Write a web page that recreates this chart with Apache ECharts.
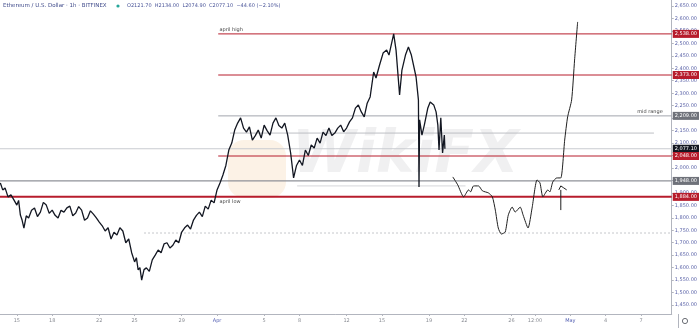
<!DOCTYPE html>
<html><head><meta charset="utf-8">
<script src="https://cdn.jsdelivr.net/npm/echarts@6/dist/echarts.min.js"></script>
<style>html,body{margin:0;padding:0;background:#fff}#c{width:700px;height:328px}</style>
</head><body><div id="c"></div>
<script>
// ---- data (day of March 2021 on x; Apr 1 = 32, May 1 = 62) ----
const mainDays = [13.6,13.8,14,14.25,14.5,14.75,15,15.15,15.3,15.45,15.6,15.8,16,16.25,16.5,16.75,17,17.25,17.5,17.75,18,18.25,18.5,18.75,19,19.25,19.5,19.75,20,20.25,20.5,20.75,21,21.25,21.5,21.75,22,22.25,22.5,22.75,23,23.25,23.5,23.75,24,24.25,24.5,24.75,25,25.15,25.3,25.45,25.6,25.8,26,26.25,26.5,26.75,27,27.25,27.5,27.75,28,28.25,28.5,28.75,29,29.25,29.5,29.75,30,30.25,30.5,30.75,31,31.25,31.5,31.75,32,32.25,32.5,32.75,33,33.25,33.5,33.75,34,34.25,34.5,34.75,35,35.25,35.5,35.75,36,36.25,36.5,36.75,37,37.25,37.5,37.75,38,38.25,38.5,38.75,39,39.25,39.5,39.75,40,40.25,40.5,40.75,41,41.25,41.5,41.75,42,42.25,42.5,42.75,43,43.25,43.5,43.75,44,44.25,44.5,44.75,45,45.3,45.5,45.8,46.1,46.4,46.6,47,47.2,47.5,47.7,48,48.25,48.5,48.9,49.1,49.15,49.2,49.4,49.6,49.9,50.1,50.4,50.6,50.75,50.85,51,51.15,51.3,51.35];
const mainPrices = [1940,1912,1920,1884,1892,1872,1851,1870,1811,1790,1759,1808,1799,1830,1839,1805,1823,1862,1851,1818,1831,1810,1799,1830,1823,1840,1847,1808,1819,1845,1831,1790,1799,1828,1815,1800,1783,1768,1747,1760,1715,1742,1731,1760,1747,1700,1715,1660,1623,1640,1591,1600,1550,1592,1599,1585,1631,1650,1671,1660,1695,1700,1679,1690,1711,1700,1743,1760,1771,1755,1791,1810,1823,1805,1847,1835,1871,1860,1912,1940,1972,2010,2072,2100,2152,2180,2201,2160,2144,2165,2112,2130,2152,2120,2172,2150,2132,2180,2201,2170,2160,2180,2132,2060,1960,2010,2032,2010,2072,2050,2092,2080,2120,2100,2144,2130,2160,2130,2140,2160,2172,2145,2160,2185,2201,2240,2253,2225,2205,2260,2285,2385,2361,2413,2461,2473,2453,2538,2473,2293,2393,2453,2485,2453,2365,2273,1924,2193,2132,2172,2241,2265,2253,2225,2172,2072,2201,2060,2132,2077];
const sketchDays = [52.02,52.44,52.94,53.36,53.53,53.78,54.2,54.54,55.04,55.38,55.63,55.88,56.14,56.47,56.73,57.06,57.32,57.74,57.99,58.41,58.75,59.17,59.42,59.67,60.09,60.26,60.51,60.85,61.19,61.52,61.77,62.11,62.36,62.62];
const sketchPrices = [1964,1932,1884,1912,1904,1928,1928,1908,1900,1884,1831,1759,1735,1743,1811,1843,1823,1843,1811,1759,1839,1952,1940,1884,1912,1904,1944,1960,1960,2112,2205,2273,2433,2586];
const markDays = [61.02,61.19,61.44,61.69];
const markPrices = [1912,1928,1920,1912];
const wickDays = [61.19,61.19];
const wickPrices = [1912,1831];
const tickDays = [15,18,22,25,29,32,36,39,43,46,50,53,57,59,62,65,68];
const tickLabels = ['15','18','22','25','29','Apr','5','8','12','15','19','22','26','12:00','May','4','7'];
const priceTicks = [1450,1500,1550,1600,1650,1700,1750,1800,1850,1900,1950,2000,2050,2100,2150,2200,2250,2300,2350,2400,2450,2500,2550,2600,2650];
const levelValues = [2538,2373,2209,2140,2077.10,2048,1948,1884,1739,1928];
const levelFrom = [32.1,32.1,32.1,33.1,13.57,32.1,13.57,13.57,25.8,38.8];
const levelTo = [70.61,70.61,70.61,69.1,70.61,70.61,70.61,70.61,70.61,53.1];
const noteTexts = ['april high','mid range','april low'];
const noteDays = [32.2,69.85,32.2];
const notePrices = [2538,2209,1884];
const headerName = 'Ethereum / U.S. Dollar · 1h · BITFINEX';
const headerOHLC = 'O2121.70  H2134.00  L2074.90  C2077.10  −44.60 (−2.10%)';

const xMin = 13.57, xMax = 70.61, yMin = 1414, yMax = 2674;

function fmt(v){
  const s = v.toFixed(2); const [i,d] = s.split('.');
  return i.replace(/\B(?=(\d{3})+(?!\d))/g, ',') + '.' + d;
}
const RED = '#b71c2c', GRAY = '#a3a6ad', DARK = '#131722';
const lineStyles = [
  {color:RED,width:1},{color:RED,width:1},{color:GRAY,width:1},{color:'#bdbfc4',width:1},
  {color:'#c9cbd0',width:1},{color:RED,width:1},{color:'#8f9299',width:1.2},{color:RED,width:2},
  {color:'#c4c6cb',width:1,type:[2,2]},{color:'#d5d6da',width:1}
];
const tagColors = [RED,RED,'#6f727a',null,DARK,RED,'#6f727a',RED,null,null];
const notePos = ['right','left','right'];
const noteOffset = [[0,-4],[0,-4],[0,5]];

const levelSeries = levelValues.map((v,i)=>{
  const tag = tagColors[i];
  return {type:'line', silent:true, showSymbol:false, z: (i===7?4:2),
    data:[[levelFrom[i],v],[levelTo[i],v]],
    lineStyle:Object.assign({type:'solid'}, lineStyles[i]),
    endLabel: tag ? {show:true, distance:1, formatter: fmt(v), color:'#fff', backgroundColor:tag,
      fontSize:5, padding:[2,2,1,2], fontFamily:'DejaVu Sans'} : {show:false}
  };
});
const mp = noteTexts.map((t,i)=>({
  coord:[noteDays[i],notePrices[i]], name:t, symbolSize:0,
  label:{show:true, position:notePos[i], offset:noteOffset[i], distance:0, formatter:t, color:'#444', fontSize:5, fontFamily:'DejaVu Sans'}
}));

const chart = echarts.init(document.getElementById('c'), null, {renderer:'canvas'});
chart.setOption({
  animation:false,
  grid:{left:0,right:22,top:0,bottom:14},
  xAxis:{type:'value',min:xMin,max:xMax,splitLine:{show:false},
    axisLine:{show:true,lineStyle:{color:'#b2b5be'}},
    axisTick:{show:true,customValues:tickDays,length:2,lineStyle:{color:'#b2b5be'}},
    axisLabel:{customValues:tickDays,fontSize:5,color:'#8a8d94',margin:4,fontFamily:'DejaVu Sans',
      formatter:(v)=>{const i=tickDays.indexOf(v); const t=tickLabels[i]; return (t==='Apr'||t==='May')?'{m|'+t+'}':t;},
      rich:{m:{color:'#4f5bb0',fontSize:5,fontFamily:'DejaVu Sans'}}}},
  yAxis:{type:'value',position:'right',min:yMin,max:yMax,splitLine:{show:false},
    axisLine:{show:true,lineStyle:{color:'#b2b5be'}},
    axisTick:{show:true,customValues:priceTicks,length:2,lineStyle:{color:'#b2b5be'}},
    axisLabel:{customValues:priceTicks,fontSize:5,color:'#5b63a8',margin:3,fontFamily:'DejaVu Sans',formatter:fmt}},
  graphic:[
    {type:'group',silent:true,z:0,children:[
      {type:'rect',shape:{x:228,y:140,width:58,height:58,r:16},style:{fill:'rgba(243,196,140,0.22)'}},
      {type:'text',x:292,y:128,style:{text:'WikiFX',font:'italic bold 58px "DejaVu Sans"',fill:'rgba(200,200,205,0.28)'}}
    ]},
    {type:'text',left:3,top:3,style:{text:headerName,font:'5.5px "DejaVu Sans"',fill:'#3f4a8a'}},
    {type:'circle',shape:{cx:118,cy:6,r:1.6},style:{fill:'#26a69a'}},
    {type:'text',left:127,top:3,style:{text:headerOHLC,font:'5px "DejaVu Sans"',fill:'#4a5599'}},
    {type:'line',shape:{x1:678.5,y1:314,x2:678.5,y2:328},style:{stroke:'#b2b5be',lineWidth:1}},
    {type:'circle',shape:{cx:685,cy:321,r:2.6},style:{fill:'none',stroke:'#6b6e75',lineWidth:1}}
  ],
  series: levelSeries.concat([
    {type:'line',data:mainDays.map((d,i)=>[d,mainPrices[i]]),showSymbol:false,
      lineStyle:{color:DARK,width:1.3},z:5,
      markPoint:{silent:true,symbol:'circle',symbolSize:0,data:mp,animation:false}},
    {type:'line',data:sketchDays.map((d,i)=>[d,sketchPrices[i]]),showSymbol:false,smooth:0.2,
      lineStyle:{color:'#1f1f1f',width:1},z:5},
    {type:'line',data:markDays.map((d,i)=>[d,markPrices[i]]),showSymbol:false,
      lineStyle:{color:'#1f1f1f',width:1},z:5},
    {type:'line',data:wickDays.map((d,i)=>[d,wickPrices[i]]),showSymbol:false,
      lineStyle:{color:'#1f1f1f',width:1},z:5}
  ])
});
</script></body></html>
